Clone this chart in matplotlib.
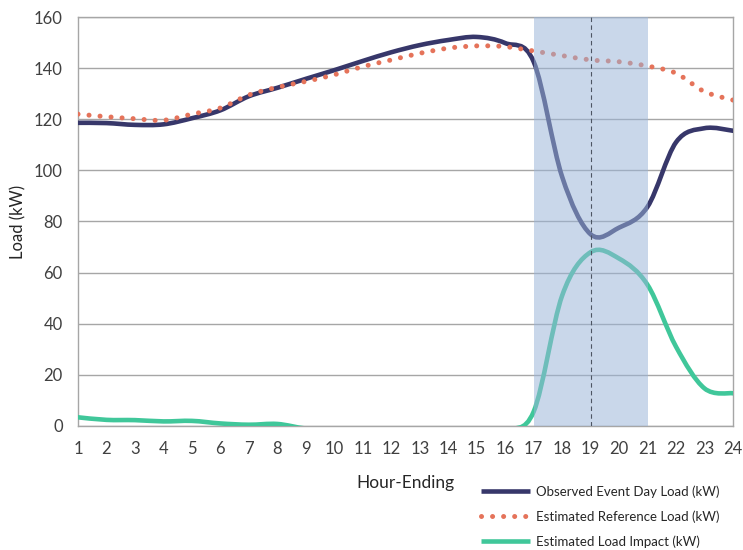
import numpy as np
import matplotlib
matplotlib.use("Agg")
import matplotlib.pyplot as plt
from matplotlib.path import Path
from matplotlib.patches import PathPatch, Rectangle
from matplotlib.lines import Line2D

plt.rcParams['font.family'] = ['Lato', 'DejaVu Sans']

hours = list(range(1, 25))
observed_load = [118.6, 118.5, 117.8, 118.0, 120.4, 123.5, 129.0, 132.3, 135.8, 139.2,
                 142.8, 146.2, 149.0, 151.0, 152.2, 149.8, 142.5, 97.5, 75.0, 77.6,
                 85.8, 111.0, 116.5, 115.5]
reference_load = [122.0, 121.0, 120.2, 119.6, 122.0, 124.4, 129.5, 132.5, 134.8, 137.4,
                  140.6, 143.2, 145.8, 147.8, 148.7, 148.4, 146.7, 144.9, 143.2, 142.5,
                  140.8, 138.0, 130.8, 127.5]
load_impact = [3.4, 2.4, 2.3, 1.8, 2.0, 1.0, 0.5, 0.8, -1.0, -1.5,
               -2.5, -3.0, -3.0, -3.5, -3.5, -1.5, 5.6, 51.0, 68.0, 65.5,
               55.2, 31.0, 14.7, 12.8]
tick_labels = [str(h) for h in hours]
event_window = (17, 21)
event_peak_hour = 19

series_names = ["Observed Event Day Load (kW)",
                "Estimated Reference Load (kW)",
                "Estimated Load Impact (kW)"]
navy = "#37376a"
coral = "#e5735a"
green = "#40c79a"
text_color = "#404040"


def smooth_path(xs, ys, tension=1.0 / 6.0):
    """Cubic Bezier path through the points, spreadsheet-style smoothing."""
    pts = np.column_stack([xs, ys]).astype(float)
    n = len(pts)
    verts = [pts[0]]
    codes = [Path.MOVETO]
    for i in range(n - 1):
        p_prev = pts[i - 1] if i > 0 else pts[i]
        p0 = pts[i]
        p1 = pts[i + 1]
        p_next = pts[i + 2] if i + 2 < n else pts[i + 1]
        c1 = p0 + (p1 - p_prev) * tension
        c2 = p1 - (p_next - p0) * tension
        verts += [c1, c2, p1]
        codes += [Path.CURVE4] * 3
    return Path(verts, codes)


fig = plt.figure(figsize=(7.43, 5.5), dpi=100)
ax = fig.add_axes([78 / 743, 1 - 426 / 550, (733 - 78) / 743, (426 - 17) / 550])

ax.set_xlim(1, 24)
ax.set_ylim(0, 160)
ax.set_xticks(hours)
ax.set_xticklabels(tick_labels)
ax.set_yticks(range(0, 161, 20))
ax.tick_params(length=0, labelsize=12, colors=text_color)
ax.tick_params(axis='x', pad=11)
ax.tick_params(axis='y', pad=11)
ax.grid(axis='y', color="#a6a6a6", linewidth=1.0)
ax.set_axisbelow(True)
for sp in ax.spines.values():
    sp.set_color("#a6a6a6")
    sp.set_linewidth(1.0)

lw = 3.3
ax.add_patch(PathPatch(smooth_path(hours, observed_load), fill=False,
                       edgecolor=navy, linewidth=lw, capstyle='round',
                       joinstyle='round', zorder=3))
ax.add_patch(PathPatch(smooth_path(hours, reference_load), fill=False,
                       edgecolor=coral, linewidth=3.6, capstyle='round',
                       linestyle=(0, (0.01, 2.2)), zorder=3))
ax.add_patch(PathPatch(smooth_path(hours, load_impact), fill=False,
                       edgecolor=green, linewidth=lw, capstyle='round',
                       joinstyle='round', zorder=3))

# event window shading laid over the curves
ax.add_patch(Rectangle((event_window[0], 0), event_window[1] - event_window[0], 160,
                       facecolor="#99b4d8", alpha=0.52, edgecolor='none', zorder=4))
ax.axvline(event_peak_hour, color="#4d5563", linewidth=0.8,
           linestyle=(0, (4, 3)), zorder=5)

ax.set_ylabel("Load (kW)", fontsize=12, color="#262626", labelpad=5)
ax.set_xlabel("Hour-Ending", fontsize=12.5, color="#262626", labelpad=13)

handles = [
    Line2D([], [], color=navy, linewidth=lw, solid_capstyle='butt'),
    Line2D([], [], color=coral, linewidth=3.6, linestyle=(0, (0.01, 2.2)),
           dash_capstyle='round'),
    Line2D([], [], color=green, linewidth=lw, solid_capstyle='butt'),
]
fig.legend(handles, series_names, loc='upper left',
           bbox_to_anchor=(481 / 743, 1 - 485 / 550), frameon=False,
           fontsize=9.5, handlelength=3.7, handletextpad=0.5,
           labelspacing=0.95, borderpad=0, borderaxespad=0,
           labelcolor="#262626")

fig.savefig("out.png", dpi=100)
